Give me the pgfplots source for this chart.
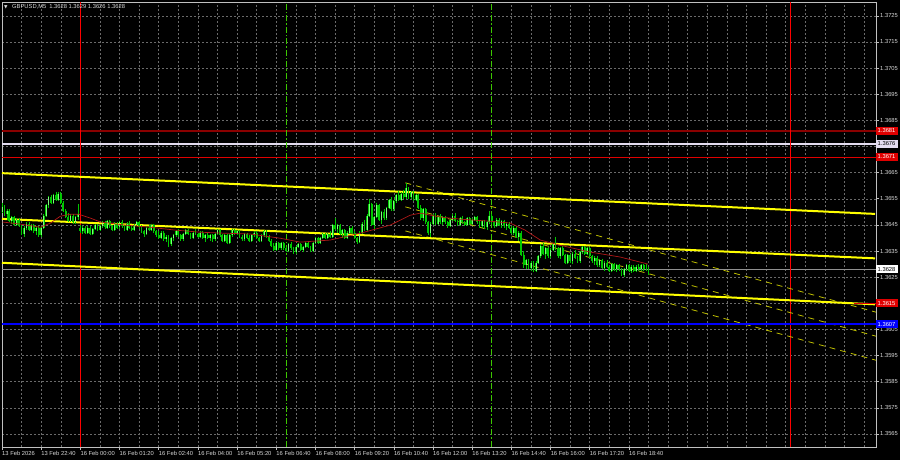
\documentclass[border=0pt]{standalone}
\usepackage{pgfplots}
\usepackage{pgfplotstable}
\pgfplotsset{compat=1.18}
\usepackage{fontspec}
\setmainfont{Liberation Sans}
\newfontfamily\symfont{DejaVu Sans}
\newcommand\ticks{\fontsize{5.8}{7}\selectfont}

\definecolor{gridc}{HTML}{6A6A6A}
\definecolor{framec}{HTML}{C0C0C0}
\definecolor{labelc}{HTML}{D8D8D8}
\definecolor{candle}{HTML}{00C800}
\definecolor{candlelt}{HTML}{7CFF7C}
\definecolor{maline}{HTML}{B01818}
\definecolor{chan}{HTML}{FFFF00}
\definecolor{chandash}{HTML}{BEBE00}
\definecolor{lvlred}{HTML}{E00000}
\definecolor{lvldark}{HTML}{8B0000}
\definecolor{lvlwhite}{HTML}{E4DCF0}
\definecolor{lvlblue}{HTML}{0000FF}
\definecolor{bidc}{HTML}{909090}
\definecolor{sessgreen}{HTML}{3CC800}

% GBPUSD M5 bars: bar index (0 = 16 Feb 00:00), open, high, low, close
\pgfplotstableread{
i o h l c
-32 1.36500 1.36535 1.36495 1.36520
-31 1.36520 1.36525 1.36485 1.36490
-30 1.36490 1.36510 1.36470 1.36505
-29 1.36505 1.36510 1.36460 1.36465
-28 1.36465 1.36485 1.36455 1.36480
-27 1.36480 1.36485 1.36445 1.36450
-26 1.36450 1.36475 1.36445 1.36470
-25 1.36470 1.36475 1.36440 1.36445
-24 1.36445 1.36450 1.36410 1.36415
-23 1.36415 1.36445 1.36405 1.36440
-22 1.36440 1.36460 1.36430 1.36455
-21 1.36455 1.36460 1.36425 1.36430
-20 1.36430 1.36455 1.36425 1.36450
-19 1.36450 1.36455 1.36420 1.36425
-18 1.36425 1.36445 1.36410 1.36440
-17 1.36440 1.36445 1.36405 1.36410
-16 1.36410 1.36445 1.36405 1.36440
-15 1.36440 1.36490 1.36435 1.36485
-14 1.36485 1.36530 1.36480 1.36525
-13 1.36525 1.36560 1.36515 1.36555
-12 1.36555 1.36565 1.36530 1.36535
-11 1.36535 1.36570 1.36530 1.36565
-10 1.36565 1.36575 1.36540 1.36545
-9 1.36545 1.36575 1.36540 1.36570
-8 1.36570 1.36575 1.36530 1.36535
-7 1.36535 1.36540 1.36500 1.36505
-6 1.36505 1.36510 1.36475 1.36480
-5 1.36480 1.36495 1.36460 1.36465
-4 1.36465 1.36490 1.36460 1.36485
-3 1.36485 1.36490 1.36455 1.36460
-2 1.36460 1.36485 1.36455 1.36480
-1 1.36480 1.36530 1.36470 1.36490
0 1.36440 1.36450 1.36420 1.36425
1 1.36425 1.36445 1.36415 1.36440
2 1.36440 1.36445 1.36415 1.36420
3 1.36420 1.36445 1.36415 1.36440
4 1.36440 1.36445 1.36410 1.36415
5 1.36415 1.36440 1.36410 1.36435
6 1.36435 1.36455 1.36430 1.36450
7 1.36450 1.36455 1.36425 1.36430
8 1.36430 1.36450 1.36425 1.36445
9 1.36445 1.36465 1.36440 1.36460
10 1.36460 1.36465 1.36435 1.36440
11 1.36440 1.36470 1.36435 1.36465
12 1.36465 1.36470 1.36440 1.36445
13 1.36445 1.36450 1.36425 1.36430
14 1.36430 1.36460 1.36425 1.36455
15 1.36455 1.36460 1.36435 1.36440
16 1.36440 1.36465 1.36435 1.36460
17 1.36460 1.36470 1.36440 1.36445
18 1.36445 1.36450 1.36425 1.36430
19 1.36430 1.36460 1.36425 1.36455
20 1.36455 1.36465 1.36435 1.36440
21 1.36440 1.36445 1.36425 1.36430
22 1.36430 1.36455 1.36425 1.36450
23 1.36450 1.36465 1.36445 1.36460
24 1.36460 1.36465 1.36435 1.36440
25 1.36440 1.36450 1.36420 1.36425
26 1.36425 1.36430 1.36405 1.36415
27 1.36415 1.36445 1.36410 1.36440
28 1.36440 1.36450 1.36425 1.36430
29 1.36430 1.36455 1.36425 1.36450
30 1.36450 1.36455 1.36420 1.36425
31 1.36425 1.36430 1.36405 1.36410
32 1.36410 1.36425 1.36395 1.36400
33 1.36400 1.36425 1.36395 1.36420
34 1.36420 1.36425 1.36390 1.36395
35 1.36395 1.36410 1.36385 1.36405
36 1.36405 1.36410 1.36365 1.36375
37 1.36375 1.36405 1.36370 1.36400
38 1.36400 1.36415 1.36390 1.36410
39 1.36410 1.36430 1.36405 1.36425
40 1.36425 1.36435 1.36405 1.36410
41 1.36410 1.36415 1.36390 1.36395
42 1.36395 1.36420 1.36390 1.36415
43 1.36415 1.36435 1.36410 1.36430
44 1.36430 1.36435 1.36410 1.36415
45 1.36415 1.36420 1.36395 1.36400
46 1.36400 1.36425 1.36395 1.36420
47 1.36420 1.36435 1.36410 1.36415
48 1.36415 1.36420 1.36400 1.36405
49 1.36405 1.36425 1.36400 1.36420
50 1.36420 1.36425 1.36395 1.36400
51 1.36400 1.36415 1.36385 1.36410
52 1.36410 1.36420 1.36395 1.36400
53 1.36400 1.36415 1.36390 1.36410
54 1.36410 1.36415 1.36385 1.36395
55 1.36395 1.36420 1.36390 1.36415
56 1.36415 1.36435 1.36410 1.36430
57 1.36430 1.36435 1.36405 1.36410
58 1.36410 1.36415 1.36385 1.36390
59 1.36390 1.36415 1.36385 1.36410
60 1.36410 1.36415 1.36375 1.36380
61 1.36380 1.36415 1.36375 1.36410
62 1.36410 1.36435 1.36405 1.36430
63 1.36430 1.36435 1.36410 1.36415
64 1.36415 1.36430 1.36410 1.36425
65 1.36425 1.36430 1.36400 1.36405
66 1.36405 1.36410 1.36390 1.36395
67 1.36395 1.36420 1.36390 1.36415
68 1.36415 1.36420 1.36395 1.36400
69 1.36400 1.36410 1.36385 1.36390
70 1.36390 1.36415 1.36385 1.36410
71 1.36410 1.36425 1.36405 1.36420
72 1.36420 1.36425 1.36395 1.36400
73 1.36400 1.36405 1.36385 1.36390
74 1.36390 1.36415 1.36385 1.36410
75 1.36410 1.36430 1.36405 1.36425
76 1.36425 1.36430 1.36400 1.36405
77 1.36405 1.36410 1.36385 1.36390
78 1.36390 1.36395 1.36365 1.36370
79 1.36370 1.36380 1.36350 1.36355
80 1.36355 1.36385 1.36350 1.36380
81 1.36380 1.36385 1.36355 1.36360
82 1.36360 1.36385 1.36355 1.36380
83 1.36380 1.36385 1.36355 1.36360
84 1.36360 1.36365 1.36345 1.36350
85 1.36350 1.36380 1.36345 1.36375
86 1.36375 1.36385 1.36355 1.36360
87 1.36360 1.36365 1.36340 1.36345
88 1.36345 1.36370 1.36340 1.36365
89 1.36365 1.36380 1.36360 1.36375
90 1.36375 1.36380 1.36350 1.36355
91 1.36355 1.36370 1.36345 1.36365
92 1.36365 1.36385 1.36360 1.36380
93 1.36380 1.36385 1.36360 1.36365
94 1.36365 1.36370 1.36345 1.36350
95 1.36350 1.36385 1.36345 1.36380
96 1.36380 1.36405 1.36375 1.36400
97 1.36400 1.36405 1.36375 1.36380
98 1.36380 1.36405 1.36375 1.36400
99 1.36400 1.36420 1.36395 1.36415
100 1.36415 1.36420 1.36395 1.36400
101 1.36400 1.36420 1.36395 1.36415
102 1.36415 1.36425 1.36400 1.36405
103 1.36405 1.36455 1.36400 1.36450
104 1.36450 1.36475 1.36430 1.36435
105 1.36435 1.36455 1.36420 1.36450
106 1.36450 1.36455 1.36410 1.36415
107 1.36415 1.36435 1.36400 1.36430
108 1.36430 1.36435 1.36395 1.36400
109 1.36400 1.36425 1.36395 1.36420
110 1.36420 1.36445 1.36415 1.36440
111 1.36440 1.36445 1.36415 1.36420
112 1.36420 1.36425 1.36395 1.36400
113 1.36400 1.36405 1.36375 1.36385
114 1.36385 1.36425 1.36380 1.36420
115 1.36420 1.36460 1.36415 1.36455
116 1.36455 1.36470 1.36425 1.36430
117 1.36430 1.36490 1.36425 1.36485
118 1.36485 1.36550 1.36480 1.36530
119 1.36530 1.36535 1.36445 1.36450
120 1.36450 1.36485 1.36435 1.36480
121 1.36480 1.36535 1.36475 1.36525
122 1.36525 1.36530 1.36465 1.36470
123 1.36470 1.36505 1.36455 1.36500
124 1.36500 1.36510 1.36470 1.36475
125 1.36475 1.36520 1.36470 1.36515
126 1.36515 1.36550 1.36510 1.36545
127 1.36545 1.36555 1.36505 1.36510
128 1.36510 1.36545 1.36505 1.36540
129 1.36540 1.36570 1.36535 1.36565
130 1.36565 1.36580 1.36540 1.36545
131 1.36545 1.36575 1.36540 1.36570
132 1.36570 1.36585 1.36550 1.36555
133 1.36555 1.36610 1.36550 1.36590
134 1.36590 1.36595 1.36550 1.36555
135 1.36555 1.36580 1.36550 1.36575
136 1.36575 1.36580 1.36540 1.36545
137 1.36545 1.36570 1.36540 1.36565
138 1.36565 1.36570 1.36510 1.36515
139 1.36515 1.36525 1.36470 1.36475
140 1.36475 1.36515 1.36465 1.36510
141 1.36510 1.36515 1.36455 1.36460
142 1.36460 1.36465 1.36410 1.36420
143 1.36420 1.36460 1.36405 1.36455
144 1.36455 1.36490 1.36450 1.36485
145 1.36485 1.36495 1.36450 1.36455
146 1.36455 1.36485 1.36450 1.36480
147 1.36480 1.36490 1.36455 1.36460
148 1.36460 1.36485 1.36450 1.36480
149 1.36480 1.36485 1.36455 1.36460
150 1.36460 1.36465 1.36440 1.36445
151 1.36445 1.36475 1.36440 1.36470
152 1.36470 1.36490 1.36465 1.36485
153 1.36485 1.36495 1.36460 1.36465
154 1.36465 1.36470 1.36445 1.36450
155 1.36450 1.36480 1.36445 1.36475
156 1.36475 1.36485 1.36455 1.36460
157 1.36460 1.36465 1.36445 1.36450
158 1.36450 1.36480 1.36445 1.36475
159 1.36475 1.36480 1.36450 1.36455
160 1.36455 1.36475 1.36450 1.36470
161 1.36470 1.36485 1.36465 1.36480
162 1.36480 1.36485 1.36455 1.36460
163 1.36460 1.36465 1.36440 1.36445
164 1.36445 1.36470 1.36440 1.36465
165 1.36465 1.36470 1.36435 1.36440
166 1.36440 1.36465 1.36430 1.36460
167 1.36460 1.36505 1.36455 1.36485
168 1.36485 1.36490 1.36455 1.36460
169 1.36460 1.36465 1.36440 1.36445
170 1.36445 1.36475 1.36440 1.36470
171 1.36470 1.36475 1.36445 1.36450
172 1.36450 1.36470 1.36440 1.36465
173 1.36465 1.36470 1.36440 1.36445
174 1.36445 1.36460 1.36430 1.36455
175 1.36455 1.36460 1.36435 1.36440
176 1.36440 1.36445 1.36415 1.36420
177 1.36420 1.36445 1.36410 1.36440
178 1.36440 1.36445 1.36400 1.36405
179 1.36405 1.36425 1.36390 1.36420
180 1.36420 1.36425 1.36330 1.36335
181 1.36335 1.36350 1.36285 1.36295
182 1.36295 1.36320 1.36280 1.36315
183 1.36315 1.36320 1.36280 1.36285
184 1.36285 1.36310 1.36275 1.36305
185 1.36305 1.36310 1.36270 1.36275
186 1.36275 1.36310 1.36270 1.36305
187 1.36305 1.36335 1.36300 1.36330
188 1.36330 1.36375 1.36325 1.36370
189 1.36370 1.36380 1.36335 1.36340
190 1.36340 1.36365 1.36320 1.36360
191 1.36360 1.36365 1.36325 1.36330
192 1.36330 1.36360 1.36325 1.36355
193 1.36355 1.36380 1.36350 1.36375
194 1.36375 1.36405 1.36355 1.36360
195 1.36360 1.36365 1.36325 1.36330
196 1.36330 1.36365 1.36320 1.36360
197 1.36360 1.36370 1.36330 1.36335
198 1.36335 1.36340 1.36300 1.36305
199 1.36305 1.36340 1.36300 1.36335
200 1.36335 1.36340 1.36305 1.36310
201 1.36310 1.36345 1.36300 1.36340
202 1.36340 1.36355 1.36320 1.36325
203 1.36325 1.36330 1.36305 1.36310
204 1.36310 1.36350 1.36305 1.36345
205 1.36345 1.36370 1.36340 1.36365
206 1.36365 1.36370 1.36335 1.36340
207 1.36340 1.36365 1.36335 1.36360
208 1.36360 1.36365 1.36325 1.36330
209 1.36330 1.36335 1.36305 1.36310
210 1.36310 1.36330 1.36295 1.36325
211 1.36325 1.36330 1.36290 1.36295
212 1.36295 1.36320 1.36290 1.36315
213 1.36315 1.36320 1.36280 1.36285
214 1.36285 1.36310 1.36275 1.36305
215 1.36305 1.36315 1.36285 1.36290
216 1.36290 1.36295 1.36270 1.36275
217 1.36275 1.36305 1.36270 1.36300
218 1.36300 1.36305 1.36275 1.36280
219 1.36280 1.36300 1.36270 1.36295
220 1.36295 1.36300 1.36275 1.36280
221 1.36280 1.36285 1.36255 1.36260
222 1.36260 1.36285 1.36250 1.36280
223 1.36280 1.36300 1.36275 1.36295
224 1.36295 1.36300 1.36270 1.36275
225 1.36275 1.36295 1.36265 1.36290
226 1.36290 1.36295 1.36270 1.36275
227 1.36275 1.36295 1.36270 1.36290
228 1.36290 1.36300 1.36275 1.36280
229 1.36280 1.36300 1.36275 1.36295
230 1.36295 1.36300 1.36275 1.36280
231 1.36280 1.36300 1.36275 1.36280
232 1.36280 1.36290 1.36260 1.36280
}\candles

% moving average of the closes
\pgfplotstableread{
i v
-31.8 1.36461
-24.5 1.36453
-16.3 1.36441
-12.2 1.36457
-8.2 1.36483
-4.1 1.36491
-0.8 1.36491
4.1 1.36476
8.2 1.36461
18.4 1.36449
28.6 1.36441
38.8 1.36430
49 1.36422
59.2 1.36418
69.4 1.36415
81.6 1.36399
89.8 1.36384
102 1.36392
114.3 1.36418
126.5 1.36449
134.7 1.36487
138.8 1.36495
146.9 1.36480
155.1 1.36472
167.3 1.36464
175.5 1.36457
181.6 1.36430
187.8 1.36392
195.9 1.36372
208.2 1.36346
220.4 1.36327
231.8 1.36300
}\maval

\begin{document}
\begin{tikzpicture}
\path[use as bounding box, fill=black] (0,0) rectangle (900pt,460pt);
\begin{axis}[
  at={(2pt,13pt)}, anchor=south west,
  scale only axis, width=874pt, height=445pt,
  xmin=-32, xmax=324.9, ymin=1.35600, ymax=1.37303,
  clip mode=individual,
  axis line style={draw=framec, line width=0.8pt},
  xtick={-32,-16,0,16,32,48,64,80,96,112,128,144,160,176,192,208,224},
  xticklabels={13 Feb 2026,13 Feb 22:40,16 Feb 00:00,16 Feb 01:20,16 Feb 02:40,16 Feb 04:00,16 Feb 05:20,16 Feb 06:40,16 Feb 08:00,16 Feb 09:20,16 Feb 10:40,16 Feb 12:00,16 Feb 13:20,16 Feb 14:40,16 Feb 16:00,16 Feb 17:20,16 Feb 18:40},
  minor xtick={-24,-8,8,24,40,56,72,88,104,120,136,152,184,200,216,232,240,248,256,264,272,280,288,296,304,312,320},
  ytick={1.3565,1.3575,1.3585,1.3595,1.3605,1.3615,1.3625,1.3635,1.3645,1.3655,1.3665,1.3675,1.3685,1.3695,1.3705,1.3715,1.3725},
  yticklabels={1.3565,1.3575,1.3585,1.3595,1.3605,,1.3625,1.3635,1.3645,1.3655,1.3665,,1.3685,1.3695,1.3705,1.3715,1.3725},
  xtick pos=bottom, ytick pos=right, yticklabel pos=right,
  tick align=outside, major tick length=3pt, minor tick length=0pt,
  tick style={draw=framec, line width=0.6pt},
  xmajorgrids, xminorgrids, ymajorgrids,
  major grid style={draw=gridc, dash pattern=on 2pt off 2pt, line width=0.5pt},
  minor grid style={draw=gridc, dash pattern=on 2pt off 2pt, line width=0.5pt},
  xticklabel style={font=\ticks, text=labelc, anchor=north west, inner sep=0pt, yshift=-1.5pt},
  yticklabel style={font=\ticks, text=labelc, anchor=west, inner sep=0pt, xshift=1pt},
]

% horizontal levels
\addplot[lvldark, line width=1.6pt] coordinates {(-32,1.3681) (324.9,1.3681)};
\addplot[lvlwhite, line width=1.6pt] coordinates {(-32,1.3676) (324.9,1.3676)};
\addplot[lvlred, line width=0.8pt] coordinates {(-32,1.3671) (324.9,1.3671)};
\addplot[bidc, line width=0.7pt] coordinates {(-32,1.3628) (324.9,1.3628)};

% session markers
\addplot[red, line width=1.3pt] coordinates {(0,1.356) (0,1.37303)};
\addplot[red, line width=1.3pt] coordinates {(290,1.356) (290,1.37303)};
\addplot[sessgreen, line width=1pt, dash pattern=on 6pt off 2pt on 1.5pt off 2pt] coordinates {(84,1.356) (84,1.37303)};
\addplot[sessgreen, line width=1pt, dash pattern=on 6pt off 2pt on 1.5pt off 2pt] coordinates {(168,1.356) (168,1.37303)};

% short-term descending channel
\addplot[chandash, line width=0.8pt, dash pattern=on 6pt off 5pt] coordinates {(132.7,1.36611) (324.9,1.36116)};
\addplot[chandash, line width=0.8pt, dash pattern=on 6pt off 5pt] coordinates {(132.7,1.36519) (324.9,1.36024)};
\addplot[chandash, line width=0.8pt, dash pattern=on 6pt off 5pt] coordinates {(132.7,1.36427) (324.9,1.35932)};

% main channel
\addplot[chan, line width=2pt] coordinates {(-32,1.36648) (324.5,1.36492)};
\addplot[chan, line width=2pt] coordinates {(-32,1.36473) (324.5,1.36322)};
\addplot[chan, line width=2pt] coordinates {(-32,1.36305) (324.5,1.36146)};

% 1.3615 level marker at the right edge
\addplot[lvlred, line width=1pt] coordinates {(316,1.3615) (324.9,1.3615)};

% support level
\addplot[lvlblue, line width=2.4pt] coordinates {(-32,1.3607) (324.9,1.3607)};

% candles: wicks, bodies, lighter fill of rising bodies
\addplot[forget plot, draw=none, mark=none,
  error bars/.cd, y dir=minus, y explicit, error mark=none,
  error bar style={draw=candle, line width=0.7pt}]
  table[x=i, y=h, y error minus expr={\thisrow{h}-\thisrow{l}}] {\candles};
\addplot[forget plot, draw=none, mark=none,
  error bars/.cd, y dir=minus, y explicit, error mark=none,
  error bar style={draw=candle, line width=1.8pt}]
  table[x=i, y expr={max(\thisrow{o},\thisrow{c})}, y error minus expr={abs(\thisrow{c}-\thisrow{o})}] {\candles};
\addplot[forget plot, draw=none, mark=none,
  error bars/.cd, y dir=minus, y explicit, error mark=none,
  error bar style={draw=candlelt, line width=0.7pt}]
  table[x=i, y=c, y error minus expr={max(\thisrow{c}-\thisrow{o},0)}] {\candles};

% moving average
\addplot[maline, line width=0.7pt] table[x=i, y=v] {\maval};

% header
\node[anchor=west, inner sep=0pt, text=labelc, font=\symfont\fontsize{4.5}{5}\selectfont] at (rel axis cs:0,1) [xshift=2pt, yshift=-5pt] {▼};
\node[anchor=west, inner sep=0pt, text=labelc, font=\ticks] at (rel axis cs:0,1) [xshift=10pt, yshift=-5pt] {GBPUSD,M5\enspace 1.3628 1.3629 1.3626 1.3628};

% price tags of the levels
\tikzset{tag/.style={anchor=west, inner sep=0pt, minimum height=8pt, text width=22pt, align=left, font=\ticks}}
\node[tag, fill=lvlred, text=white] at (axis cs:324.9,1.3681) {\hspace{1.5pt}1.3681};
\node[tag, fill=lvlwhite, text=black] at (axis cs:324.9,1.3676) {\hspace{1.5pt}1.3676};
\node[tag, fill=lvlred, text=white] at (axis cs:324.9,1.3671) {\hspace{1.5pt}1.3671};
\node[tag, fill=white, text=black] at (axis cs:324.9,1.3628) {\hspace{1.5pt}1.3628};
\node[tag, fill=lvlred, text=white] at (axis cs:324.9,1.3615) {\hspace{1.5pt}1.3615};
\node[tag, fill=lvlblue, text=white] at (axis cs:324.9,1.3607) {\hspace{1.5pt}1.3607};
\end{axis}
\end{tikzpicture}
\end{document}
